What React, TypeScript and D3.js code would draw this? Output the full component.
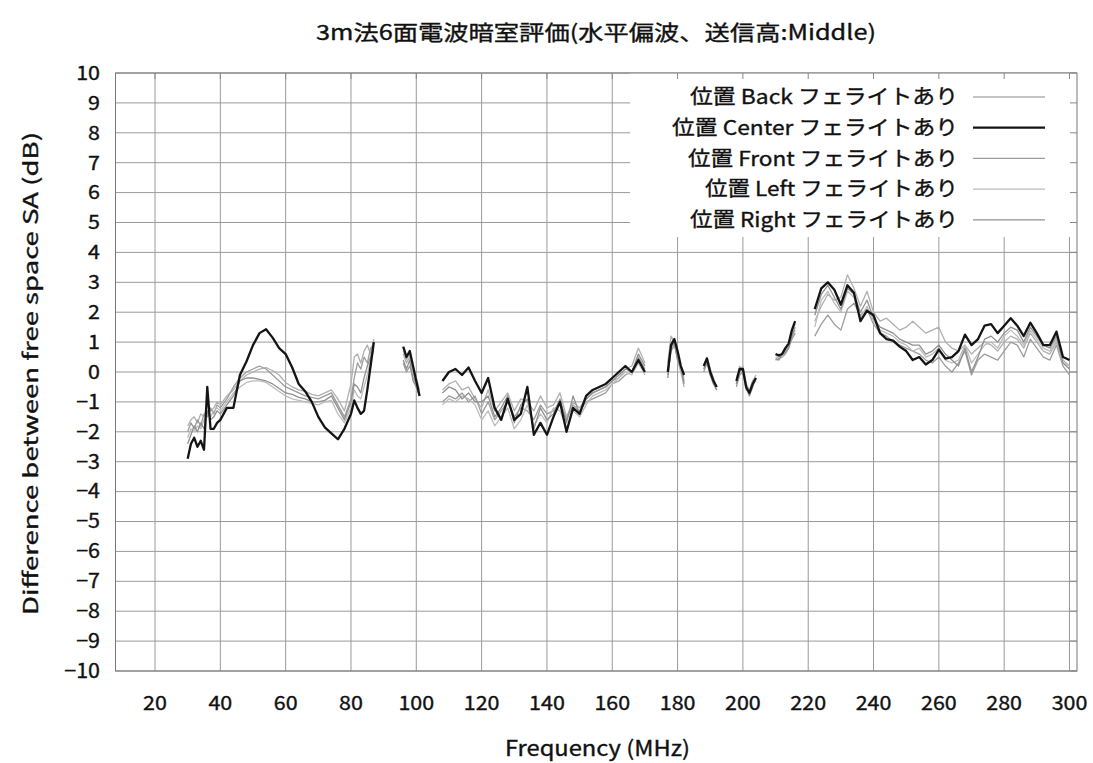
import React from "react";
import * as d3 from "d3";

// frequency (MHz) of each measured segment; gaps between segments are not drawn
const SEG_FREQS: number[][] = [
  [30, 31, 32, 33, 34, 35, 36, 37, 38, 39, 40, 42, 44, 46, 48, 50, 52, 54, 56, 58, 60, 62, 64, 66, 68, 70, 72, 74, 76, 78, 80, 81, 82, 83, 84, 85, 86, 87],
  [96, 97, 98, 99, 100, 101],
  [108, 110, 112, 114, 116, 118, 120, 122, 124, 126, 128, 130, 132, 134, 136, 138, 140, 142, 144, 146, 148, 150, 152, 154, 156, 158, 160, 162, 164, 166, 168, 170],
  [177, 178, 179, 180, 181, 182],
  [188, 189, 190, 191, 192],
  [198, 199, 200, 201, 202, 203, 204],
  [210, 211, 212, 213, 214, 215, 216],
  [222, 224, 226, 228, 230, 232, 234, 236, 238, 240, 242, 244, 246, 248, 250, 252, 254, 256, 258, 260, 262, 264, 266, 268, 270, 272, 274, 276, 278, 280, 282, 284, 286, 288, 290, 292, 294, 296, 298, 300],
];

const backDb: number[][] = [
  [-1.8, -1.6, -1.5, -1.7, -1.4, -1.5, -1.1, -1.3, -1.2, -1.0, -1.1, -0.8, -0.6, -0.3, -0.1, 0.0, 0.1, 0.15, 0.05, -0.1, -0.35, -0.5, -0.6, -0.65, -0.75, -0.8, -0.7, -0.6, -0.9, -1.3, -0.4, 0.5, 0.6, 0.3, 0.7, 0.9, 0.6, 1.1],
  [0.6, 0.3, 0.5, 0.0, -0.5, -0.7],
  [-0.6, -0.4, -0.3, -0.6, -0.5, -0.9, -1.2, -0.6, -1.3, -1.0, -0.7, -1.3, -0.9, -1.0, -1.3, -0.8, -1.2, -1.1, -0.7, -1.5, -1.0, -1.2, -0.9, -0.7, -0.6, -0.5, -0.3, -0.2, 0.1, 0.2, 0.8, 0.3],
  [0.3, 1.2, 1.0, 0.4, 0.0, -0.5],
  [0.1, 0.4, -0.1, -0.4, -0.6],
  [-0.4, 0.0, 0.2, -0.4, -0.6, -0.3, -0.1],
  [0.5, 0.5, 0.55, 0.7, 0.85, 1.2, 1.4],
  [1.7, 2.2, 2.6, 2.4, 2.5, 3.25, 2.8, 2.2, 2.7, 2.0, 1.7, 1.8, 1.6, 1.4, 1.5, 1.7, 1.5, 1.3, 1.4, 1.5, 1.0, 0.8, 0.7, 0.9, 0.6, 0.8, 1.0, 0.9, 0.7, 1.0, 1.2, 1.1, 0.8, 1.3, 1.0, 0.7, 0.6, 1.0, 0.4, 0.2],
];

const centerDb: number[][] = [
  [-2.9, -2.4, -2.2, -2.5, -2.3, -2.6, -0.5, -1.9, -1.9, -1.7, -1.6, -1.2, -1.2, -0.1, 0.35, 0.9, 1.3, 1.43, 1.15, 0.8, 0.6, 0.15, -0.4, -0.65, -1.0, -1.5, -1.85, -2.05, -2.25, -1.9, -1.4, -0.95, -1.2, -1.4, -1.3, -0.6, 0.2, 1.0],
  [0.85, 0.5, 0.7, 0.2, -0.3, -0.8],
  [-0.3, 0.0, 0.1, -0.1, 0.15, -0.3, -0.7, -0.2, -1.2, -1.6, -0.9, -1.6, -1.4, -0.5, -2.1, -1.7, -2.1, -1.5, -1.0, -2.0, -1.2, -1.4, -0.8, -0.6, -0.5, -0.4, -0.2, 0.0, 0.2, 0.0, 0.4, 0.0],
  [0.0, 0.9, 1.1, 0.7, 0.2, -0.1],
  [0.2, 0.45, 0.0, -0.3, -0.5],
  [-0.3, 0.1, 0.1, -0.5, -0.7, -0.4, -0.2],
  [0.6, 0.55, 0.6, 0.8, 0.95, 1.4, 1.7],
  [2.1, 2.8, 3.0, 2.75, 2.25, 2.9, 2.65, 1.7, 2.05, 1.9, 1.3, 1.1, 1.05, 0.85, 0.7, 0.4, 0.5, 0.25, 0.4, 0.75, 0.45, 0.5, 0.7, 1.25, 0.9, 1.1, 1.55, 1.6, 1.3, 1.55, 1.8, 1.55, 1.2, 1.65, 1.3, 0.9, 0.9, 1.35, 0.5, 0.4],
];

const frontDb: number[][] = [
  [-2.0, -1.7, -1.9, -1.6, -1.8, -1.4, -1.5, -1.2, -1.4, -1.1, -1.2, -0.9, -0.5, -0.2, 0.0, 0.1, 0.2, 0.1, -0.1, -0.3, -0.5, -0.6, -0.7, -0.8, -0.85, -0.9, -0.8, -0.7, -1.1, -1.5, -0.9, -0.2, 0.3, 0.1, 0.5, 0.3, 0.8, 0.9],
  [0.3, 0.0, 0.2, -0.2, -0.4, -0.6],
  [-1.0, -0.8, -0.9, -0.7, -1.0, -0.8, -1.4, -1.0, -1.6, -1.3, -1.0, -1.5, -1.2, -1.3, -1.6, -1.1, -1.4, -1.3, -1.0, -1.6, -1.1, -1.3, -1.0, -0.9, -0.8, -0.7, -0.4, -0.3, -0.1, 0.0, 0.5, 0.1],
  [-0.1, 0.7, 0.9, 0.5, 0.1, -0.3],
  [0.0, 0.3, 0.1, -0.3, -0.5],
  [-0.5, -0.1, 0.0, -0.6, -0.7, -0.3, -0.2],
  [0.4, 0.45, 0.5, 0.6, 0.8, 1.1, 1.3],
  [1.2, 1.6, 1.9, 1.6, 1.4, 2.1, 2.3, 1.9, 2.1, 1.6, 1.3, 1.2, 1.0, 0.9, 0.8, 0.7, 0.6, 0.4, 0.3, 0.5, 0.2, 0.0, 0.3, 0.7, -0.1, 0.4, 0.6, 0.5, 0.4, 0.7, 1.0, 0.9, 0.5, 1.1, 0.8, 0.5, 0.4, 0.9, 0.2, -0.1],
];

const leftDb: number[][] = [
  [-2.2, -1.9, -2.0, -1.8, -1.9, -1.6, -1.4, -1.5, -1.3, -1.2, -1.3, -1.0, -0.7, -0.5, -0.35, -0.3, -0.3, -0.35, -0.5, -0.65, -0.8, -0.9, -0.95, -1.0, -1.05, -1.1, -1.0, -0.95, -1.4, -1.7, -1.2, -0.6, -0.8, -0.9, -0.5, -0.1, 0.4, 0.7],
  [0.7, 0.4, 0.6, 0.1, -0.2, -0.6],
  [-1.1, -0.9, -1.0, -0.8, -0.9, -1.1, -1.6, -1.3, -1.8, -1.5, -1.2, -1.9, -1.6, -1.1, -1.8, -1.4, -1.7, -1.2, -1.3, -1.9, -1.3, -1.5, -1.1, -0.8, -0.7, -0.6, -0.4, -0.2, 0.0, -0.1, 0.3, -0.1],
  [0.1, 1.0, 0.9, 0.6, 0.1, -0.2],
  [0.2, 0.5, 0.1, -0.2, -0.5],
  [-0.2, 0.2, 0.0, -0.4, -0.6, -0.4, -0.3],
  [0.55, 0.6, 0.5, 0.75, 0.9, 1.3, 1.6],
  [1.5, 2.4, 2.7, 2.3, 2.0, 2.7, 2.5, 1.8, 2.2, 1.7, 1.4, 1.3, 1.2, 1.0, 0.9, 0.7, 0.8, 0.5, 0.6, 0.8, 0.4, 0.3, 0.4, 0.9, 0.3, 0.6, 0.9, 1.0, 0.8, 1.2, 1.4, 1.2, 0.9, 1.4, 1.1, 0.8, 0.7, 1.1, 0.3, 0.2],
];

const rightDb: number[][] = [
  [-2.4, -2.1, -1.8, -2.0, -1.7, -1.9, -1.3, -1.6, -1.5, -1.3, -1.4, -1.1, -0.8, -0.3, -0.2, -0.2, -0.25, -0.3, -0.4, -0.55, -0.7, -0.75, -0.85, -0.9, -1.0, -1.0, -0.95, -0.8, -1.2, -1.6, -1.0, -0.4, -0.5, -0.7, -0.2, 0.2, 0.5, 0.8],
  [0.4, 0.1, 0.4, -0.3, -0.5, -0.8],
  [-0.7, -0.5, -0.6, -0.9, -0.7, -1.0, -1.0, -0.8, -1.5, -1.2, -0.8, -1.7, -1.1, -0.9, -1.9, -1.2, -1.6, -1.4, -0.9, -1.7, -0.8, -1.4, -0.9, -0.7, -0.6, -0.5, -0.3, -0.1, 0.1, 0.0, 0.6, 0.2],
  [-0.2, 0.8, 1.0, 0.4, 0.2, -0.4],
  [0.1, 0.3, -0.1, -0.4, -0.6],
  [-0.4, 0.0, 0.1, -0.5, -0.8, -0.5, -0.2],
  [0.45, 0.4, 0.6, 0.65, 0.8, 1.2, 1.5],
  [1.9, 2.6, 2.9, 2.5, 2.1, 2.8, 2.6, 2.0, 2.4, 1.8, 1.5, 1.4, 1.3, 1.1, 1.0, 0.9, 0.9, 0.6, 0.7, 0.9, 0.6, 0.4, 0.2, 0.8, 0.0, 0.5, 1.1, 1.2, 1.0, 1.3, 1.5, 1.4, 1.0, 1.5, 1.2, 0.9, 0.8, 1.2, 0.3, 0.1],
];

const SERIES_NAMES = ["位置 Back フェライトあり", "位置 Center フェライトあり", "位置 Front フェライトあり", "位置 Left フェライトあり", "位置 Right フェライトあり"];
const SERIES_VALUES = [backDb, centerDb, frontDb, leftDb, rightDb];
const SERIES_COLORS = ["#b0b0b0", "#141414", "#9c9c9c", "#bcbcbc", "#909090"];
const SERIES_WIDTHS = [1.3, 2.3, 1.3, 1.3, 1.3];
// legend text widths as seen in the reference
const LEGEND_WIDTHS = [268, 286, 270, 253, 268];

const X_TICKS = [20, 40, 60, 80, 100, 120, 140, 160, 180, 200, 220, 240, 260, 280, 300];
const Y_TICKS = [10, 9, 8, 7, 6, 5, 4, 3, 2, 1, 0, -1, -2, -3, -4, -5, -6, -7, -8, -9, -10];

const TITLE = "3m法6面電波暗室評価(水平偏波、送信高:Middle)";
const X_LABEL = "Frequency (MHz)";
const Y_LABEL = "Difference between free space SA (dB)";

const W = 1093;
const H = 763;
const FONT = "'Noto Sans CJK JP', 'Noto Sans', sans-serif";
const STRETCH = 1.1;
const INK = "#111";

export default function App() {
  const left = 115.5, right = 1077, top = 73, bottom = 671;
  const x = d3.scaleLinear().domain([7.9, 302.3]).range([left, right]);
  const y = d3.scaleLinear().domain([-10, 10]).range([bottom, top]);

  const line = d3
    .line<[number, number]>()
    .x((d) => x(d[0]))
    .y((d) => y(d[1]));

  // draw grays first so the Center trace sits on top
  const order = [0, 2, 3, 4, 1];

  const legendX = 958;
  const legendRowY = (i: number) => 97 + i * 30.7;

  const hText = (tx: number, ty: number) => `translate(${tx},${ty}) scale(${STRETCH},1)`;
  // slightly heavier glyphs, like the blurred bitmap text in the source
  const ink = { fill: INK, stroke: INK, strokeWidth: 0.35 };

  return (
    <div style={{ position: "fixed", left: 0, top: 0 }}>
      <svg width={W} height={H} style={{ display: "block", background: "#fff" }} fontFamily={FONT}>
        <rect x={0} y={0} width={W} height={H} fill="#fff" />
        {/* grid */}
        {X_TICKS.map((t) => (
          <line key={"gx" + t} x1={x(t)} x2={x(t)} y1={top} y2={bottom} stroke="#9a9a9a" strokeWidth={1} />
        ))}
        {Y_TICKS.map((t) => (
          <line key={"gy" + t} x1={left} x2={right} y1={y(t)} y2={y(t)} stroke="#9a9a9a" strokeWidth={1} />
        ))}

        {/* data */}
        {order.map((si) =>
          SEG_FREQS.map((freqs, k) => (
            <path
              key={`s${si}-${k}`}
              d={line(freqs.map((f, j) => [f, SERIES_VALUES[si][k][j]] as [number, number])) || ""}
              fill="none"
              stroke={SERIES_COLORS[si]}
              strokeWidth={SERIES_WIDTHS[si]}
              strokeLinejoin="round"
            />
          ))
        )}

        {/* legend background */}
        <rect x={630} y={top} width={right - 630} height={237 - top} fill="#fff" />

        {/* border and mirrored ticks */}
        <rect x={left} y={top} width={right - left} height={bottom - top} fill="none" stroke="#777" strokeWidth={1} />
        {X_TICKS.map((t) => (
          <line key={"tt" + t} x1={x(t)} x2={x(t)} y1={top} y2={top + 6} stroke="#888" />
        ))}
        {Y_TICKS.map((t) => (
          <line key={"rt" + t} x1={right - 7} x2={right} y1={y(t)} y2={y(t)} stroke="#888" />
        ))}

        {/* tick labels */}
        {X_TICKS.map((t) => (
          <text key={"xl" + t} transform={hText(x(t), 710)} textAnchor="middle" fontSize={19.5} {...ink}>
            {t}
          </text>
        ))}
        {Y_TICKS.map((t) => (
          <text key={"yl" + t} transform={hText(100, y(t))} dy="0.35em" textAnchor="end" fontSize={19.5} {...ink}>
            {t < 0 ? "−" + Math.abs(t) : t}
          </text>
        ))}

        {/* legend */}
        {SERIES_NAMES.map((name, i) => (
          <g key={"lg" + i}>
            <text
              x={legendX - LEGEND_WIDTHS[i]}
              y={legendRowY(i)}
              dy="0.35em"
              textLength={LEGEND_WIDTHS[i]}
              lengthAdjust="spacingAndGlyphs"
              fontSize={20.5}
              {...ink}
            >
              {name}
            </text>
            <line x1={973} x2={1045} y1={legendRowY(i)} y2={legendRowY(i)} stroke={SERIES_COLORS[i]} strokeWidth={SERIES_WIDTHS[i]} />
          </g>
        ))}

        {/* titles */}
        <text x={316} y={40} textLength={560} lengthAdjust="spacingAndGlyphs" fontSize={21} {...ink}>
          {TITLE}
        </text>
        <text x={505} y={756} textLength={185} lengthAdjust="spacingAndGlyphs" fontSize={21} {...ink}>
          {X_LABEL}
        </text>
        <text
          transform={`translate(38,615) rotate(-90)`}
          textLength={483}
          lengthAdjust="spacingAndGlyphs"
          fontSize={20}
          {...ink}
        >
          {Y_LABEL}
        </text>
      </svg>
    </div>
  );
}
